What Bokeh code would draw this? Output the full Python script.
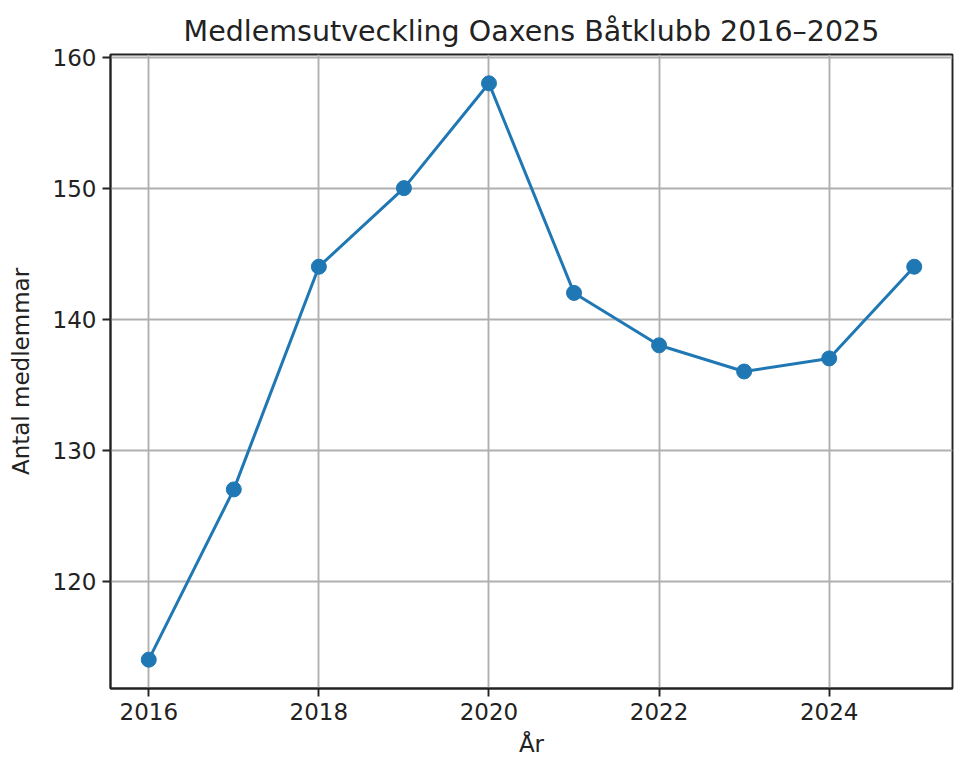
from bokeh.plotting import figure
from bokeh.models import Range1d, FixedTicker
from bokeh.embed import file_html
from bokeh.resources import INLINE

years = [2016, 2017, 2018, 2019, 2020, 2021, 2022, 2023, 2024, 2025]
members = [114, 127, 144, 150, 158, 142, 138, 136, 137, 144]
x_ticks = [2016, 2018, 2020, 2022, 2024]
y_ticks = [120, 130, 140, 150, 160]

FONT = "DejaVu Sans"
COLOR = "#1f77b4"

p = figure(width=954, height=760, output_backend="svg", toolbar_location=None,
           x_range=Range1d(2015.55, 2025.45), y_range=Range1d(111.8, 160.2),
           min_border_left=110, min_border_right=2, min_border_top=54, min_border_bottom=72)

p.title.text = "Medlemsutveckling Oaxens Båtklubb 2016–2025"
p.title.text_font = FONT
p.title.text_font_size = "28.5px"
p.title.text_font_style = "normal"
p.title.align = "center"
p.title.text_color = "#222222"
p.title.offset = 0
p.title.standoff = 14

p.line(years, members, line_color=COLOR, line_width=3.0)
p.scatter(years, members, size=15, fill_color=COLOR, line_color=COLOR)

p.xaxis.ticker = FixedTicker(ticks=x_ticks)
p.yaxis.ticker = FixedTicker(ticks=y_ticks)
p.xaxis.axis_label = "År"
p.yaxis.axis_label = "Antal medlemmar"
for ax in (p.xaxis, p.yaxis):
    ax.axis_label_text_font = FONT
    ax.axis_label_text_font_size = "23px"
    ax.axis_label_text_font_style = "normal"
    ax.axis_label_text_color = "#222222"
    ax.major_label_text_font = FONT
    ax.major_label_text_font_size = "23px"
    ax.major_label_text_color = "#222222"
    ax.minor_tick_line_color = None
    ax.major_tick_in = 0
    ax.major_tick_out = 8
    ax.major_tick_line_color = "#222222"
    ax.axis_line_color = "#222222"
    ax.axis_line_width = 1.9
    ax.major_tick_line_width = 1.9
    ax.major_label_standoff = 6
p.xaxis.axis_label_standoff = 8
p.yaxis.axis_label_standoff = 16

p.grid.grid_line_color = "#b0b0b0"
p.grid.grid_line_width = 1.9
p.outline_line_color = "#222222"
p.outline_line_width = 1.9
p.background_fill_color = "white"
p.border_fill_color = "white"

open("out.html", "w").write(file_html(p, INLINE))
